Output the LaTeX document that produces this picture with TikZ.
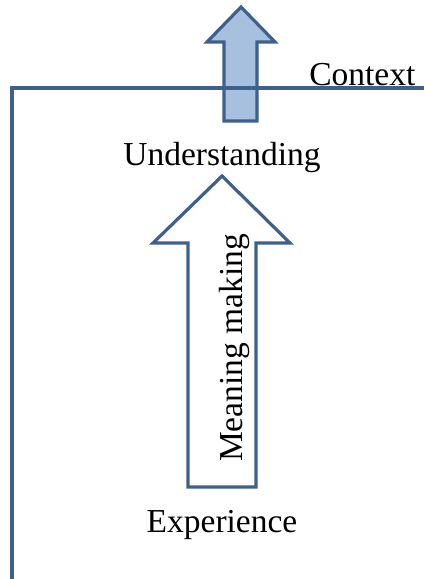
\documentclass[tikz,border=0pt]{standalone}
\usepackage{fontspec}
\setmainfont{Liberation Serif}
\usetikzlibrary{positioning}
\definecolor{edgeblue}{RGB}{62,96,142}
\definecolor{fillblue}{RGB}{167,192,222}

\begin{document}
\begin{tikzpicture}[x=1pt,y=-1pt,line width=3.2pt,line join=miter,
    lbl/.style={font=\fontsize{33.5}{38}\selectfont,inner sep=0pt}]
\useasboundingbox (0,0) rectangle (424,579);
% small arrow leaving the context
\draw[edgeblue,fill=fillblue] (241,7) -- (275,42) -- (257,42) -- (257,121)
    -- (224,121) -- (224,42) -- (207,42) -- cycle;
% context frame
\coordinate (corner) at (12,88);
\coordinate (right) at (424,88);
\coordinate (bottom) at (12,579);
\draw[edgeblue] (right) -- (corner) -- (bottom);
\node[lbl,anchor=base east] (context) at (417,85) {Context};
% big arrow
\draw[edgeblue,fill=white] (222,176) -- (290,243) -- (256,243) -- (256,487)
    -- (188,487) -- (188,243) -- (153,243) -- cycle;
\node[lbl,rotate=90,anchor=base] (meaning) at (242,348) {Meaning making};
\node[lbl,anchor=base] (understanding) at (222,165) {Understanding};
\node[lbl,anchor=base] (experience) at (222,532) {Experience};
\end{tikzpicture}
\end{document}
